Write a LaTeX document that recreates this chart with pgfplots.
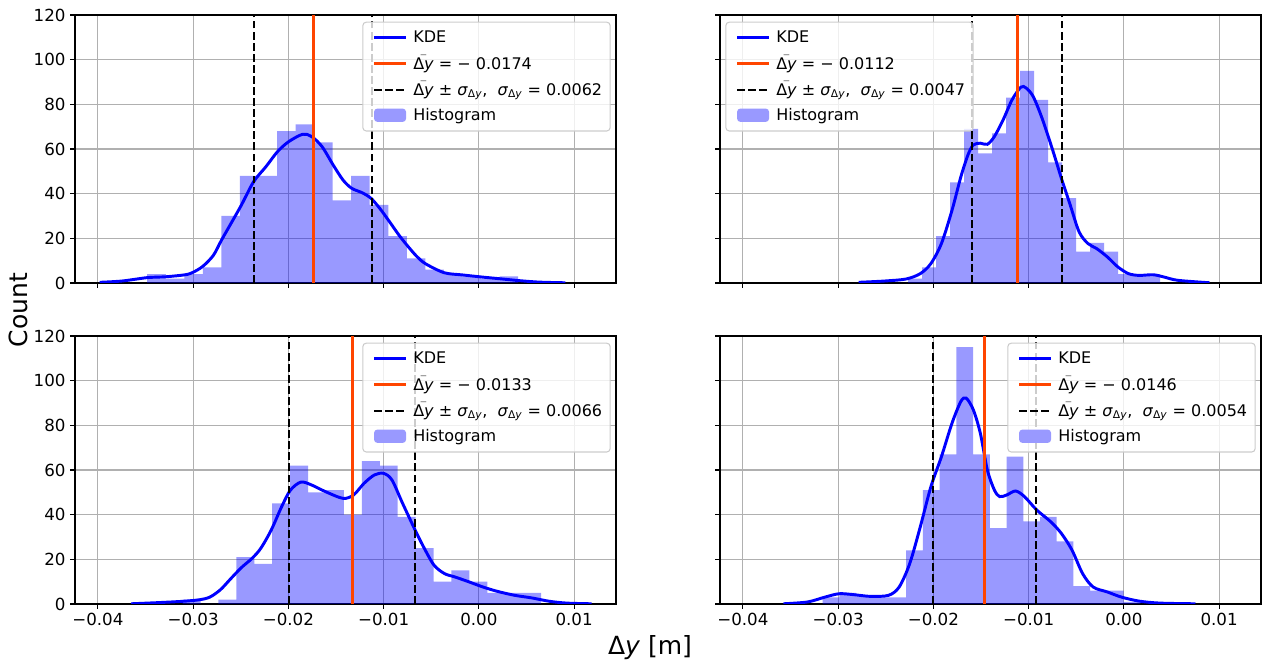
\documentclass[border=0pt]{standalone}
\usepackage{fontspec}
\setmainfont{DejaVu Sans}
\usepackage{amsmath}
\usepackage{pgfplots}
\pgfplotsset{compat=1.18}
\definecolor{kdeblue}{rgb}{0,0,1}
\definecolor{orangered}{HTML}{FF4500}
\definecolor{gridgray}{HTML}{B0B0B0}
\definecolor{histfill}{rgb}{0.6,0.6,1}

\pgfplotsset{
  kdeleg/.style={legend image code/.code={\path (0pt,0pt); \draw[draw=kdeblue, line width=2.2pt] (4pt,0pt) -- (28pt,0pt); \path (31pt,0pt);}},
  meanleg/.style={legend image code/.code={\path (0pt,0pt); \draw[draw=orangered, line width=2.2pt] (4pt,0pt) -- (28pt,0pt); \path (31pt,0pt);}},
  sdleg/.style={legend image code/.code={\path (0pt,0pt); \draw[draw=black, line width=1.5pt, dash pattern=on 5.8pt off 2.5pt] (4pt,0pt) -- (28pt,0pt); \path (31pt,0pt);}},
  boxleg/.style={legend image code/.code={\path (0pt,0pt); \fill[histfill, draw=none, fill opacity=1] (4pt,-5pt) rectangle (28pt,5pt); \path (31pt,0pt);}},
  panel/.style={
    scale only axis, width=405.75pt, height=201pt,
    xmin=-0.0424, xmax=0.0144, ymin=0, ymax=120,
    xtick={-0.04,-0.03,-0.02,-0.01,0,0.01},
    ytick={0,20,40,60,80,100,120},
    scaled x ticks=false, scaled y ticks=false,
    grid=major,
    major grid style={color=gridgray, line width=0.8pt},
    axis line style={line width=0.8pt, black},
    tick align=outside, tick pos=left,
    major tick length=3.6pt,
    major tick style={line width=0.8pt, black},
    tick label style={font=\fontsize{12.5}{15}\selectfont},
    legend style={font=\fontsize{12}{14.4}\selectfont, draw=black!20, rounded corners=2.5pt,
      fill=white, fill opacity=0.8, text opacity=1, draw opacity=1, row sep=4pt,
      inner xsep=4pt, inner ysep=4.5pt, line width=0.8pt},
    legend cell align=left,
  },
  xlab/.style={xticklabels={−0.04,−0.03,−0.02,−0.01,0.00,0.01}},
  xnolab/.style={xticklabels={}},
  ylab/.style={yticklabels={0,20,40,60,80,100,120}},
  ynolab/.style={yticklabels={}},
  legTR/.style={legend style={at={(1,1)}, anchor=north east, xshift=-4pt, yshift=-5pt}},
  legTL/.style={legend style={at={(0,1)}, anchor=north west, xshift=4pt, yshift=-5pt}},
  hist/.style={ybar interval, fill=blue, fill opacity=0.4, draw=none, forget plot},
  kdeline/.style={kdeblue, line width=2.2pt, smooth, forget plot},
  meanline/.style={orangered, line width=2.2pt, forget plot},
  sdline/.style={black, line width=1.5pt, dash pattern=on 5.8pt off 2.5pt, forget plot},
}

\newcommand{\dy}{\text{Δ\textit{y}}}
\newcommand{\legs}[2]{%
  \addlegendimage{kdeleg}
  \addlegendentry{KDE}
  \addlegendimage{meanleg}
  \addlegendentry{$\bar{\dy}$ = − #1}
  \addlegendimage{sdleg}
  \addlegendentry{$\bar{\dy}$ ± \textit{σ}$_{\dy}$,\ \ \textit{σ}$_{\dy}$ = #2}
  \addlegendimage{boxleg}
  \addlegendentry{Histogram}
}

\begin{document}
\begin{tikzpicture}
\path[use as bounding box] (0pt,0pt) rectangle (948pt,-499.5pt);

% ---------------- top left
\begin{axis}[panel, xnolab, ylab, legTR, at={(56.25pt,-11.25pt)}, anchor=north west]
\legs{0.0174}{0.0062}
\addplot[hist] coordinates {
(-0.03482,4) (-0.03287,2) (-0.03092,4) (-0.02898,7) (-0.02703,30) (-0.02508,48)
(-0.02314,48) (-0.02119,68) (-0.01924,71) (-0.01730,63) (-0.01535,37) (-0.01340,48)
(-0.01146,35) (-0.00951,21) (-0.00756,11) (-0.00562,6) (-0.00367,4) (-0.00172,3)
(0.00022,2) (0.00217,3) (0.00412,0)};
\addplot[kdeline] coordinates {
(-0.03982,0.3) (-0.03743,0.9) (-0.03482,2.4) (-0.03283,2.8) (-0.03081,3.7) (-0.03,4.8)
(-0.02897,7.5) (-0.02787,12.4) (-0.02702,19.2) (-0.02603,26.6) (-0.02493,34.9)
(-0.02364,45.4) (-0.02235,52.1) (-0.02114,58.8) (-0.01996,63.3) (-0.01849,66.6)
(-0.01757,65.6) (-0.01647,61.1) (-0.01529,52.8) (-0.01426,46.1) (-0.01335,42.4)
(-0.01224,40.4) (-0.01132,37.9) (-0.0104,33.4) (-0.00949,28.1) (-0.00838,21.4)
(-0.00754,16.9) (-0.00654,12.0) (-0.00559,8.6) (-0.00364,4.6) (-0.00169,3.6)
(0.00026,2.7) (0.0022,1.9) (0.00412,1.1) (0.00632,0.4) (0.00908,0.1)};
\addplot[meanline] coordinates {(-0.0174,0) (-0.0174,120)};
\addplot[sdline] coordinates {(-0.0236,0) (-0.0236,120)};
\addplot[sdline] coordinates {(-0.0112,0) (-0.0112,120)};
\end{axis}

% ---------------- top right
\begin{axis}[panel, xnolab, ynolab, legTL, at={(540pt,-11.25pt)}, anchor=north west]
\legs{0.0112}{0.0047}
\addplot[hist] coordinates {
(-0.025595,0) (-0.024125,0) (-0.022655,2) (-0.021185,7) (-0.019715,21) (-0.018245,45)
(-0.016775,69) (-0.015305,58) (-0.013835,67) (-0.012365,83) (-0.010895,95) (-0.009425,82)
(-0.007955,54) (-0.006485,38) (-0.005015,14) (-0.003545,18) (-0.002075,14) (-0.000605,4)
(0.000865,4) (0.002335,4) (0.003805,0)};
\addplot[kdeline] coordinates {
(-0.02785,0.3) (-0.02507,0.9) (-0.02285,1.8) (-0.02137,4.2) (-0.02026,8.7) (-0.01915,17.7)
(-0.01804,32.6) (-0.01711,47.6) (-0.01637,57.3) (-0.01581,61.8) (-0.01507,62.6)
(-0.01433,62.1) (-0.01359,65.6) (-0.01267,73.1) (-0.01174,82.0) (-0.01081,87.7)
(-0.01026,87.3) (-0.00952,83.5) (-0.00859,73.8) (-0.00748,59.6) (-0.00656,46.9)
(-0.00563,34.9) (-0.0047,22.9) (-0.00378,17.7) (-0.00285,15.4) (-0.00174,11.7)
(-0.00063,7.2) (0.00048,4.2) (0.00159,3.4) (0.00307,3.7) (0.00419,2.7) (0.00567,1.2)
(0.009,0.1)};
\addplot[meanline] coordinates {(-0.0112,0) (-0.0112,120)};
\addplot[sdline] coordinates {(-0.0159,0) (-0.0159,120)};
\addplot[sdline] coordinates {(-0.0065,0) (-0.0065,120)};
\end{axis}

% ---------------- bottom left
\begin{axis}[panel, xlab, ylab, legTR, at={(56.25pt,-252pt)}, anchor=north west]
\legs{0.0133}{0.0066}
\addplot[hist] coordinates {
(-0.031103,2) (-0.029221,0) (-0.027339,2) (-0.025457,21) (-0.023575,18) (-0.021693,45)
(-0.019811,62) (-0.017929,50) (-0.016047,51) (-0.014165,40) (-0.012283,64) (-0.010401,62)
(-0.008519,39) (-0.006637,25) (-0.004755,10) (-0.002873,15) (-0.000991,10) (0.000891,5)
(0.002773,5) (0.004655,5) (0.006537,0)};
\addplot[kdeline] coordinates {
(-0.03651,0.1) (-0.03375,0.6) (-0.0311,1.2) (-0.02934,1.9) (-0.02824,3.1) (-0.02713,6.4)
(-0.02603,11.4) (-0.02493,16.3) (-0.02382,20.4) (-0.0229,24.9) (-0.0218,33.1)
(-0.0207,43.6) (-0.01978,51.0) (-0.01868,54.6) (-0.01757,53.3) (-0.0161,50.3)
(-0.01426,47.3) (-0.01316,48.8) (-0.01206,54.0) (-0.01096,57.8) (-0.01,58.5)
(-0.00912,55.5) (-0.00801,45.1) (-0.00669,33.1) (-0.00581,25.6) (-0.00471,17.4)
(-0.0036,13.6) (-0.0025,12.1) (-0.00103,9.9) (0.00044,7.6) (0.00191,5.7) (0.00375,3.9)
(0.00559,2.7) (0.00743,1.2) (0.00926,0.4) (0.01184,0.1)};
\addplot[meanline] coordinates {(-0.0133,0) (-0.0133,120)};
\addplot[sdline] coordinates {(-0.0199,0) (-0.0199,120)};
\addplot[sdline] coordinates {(-0.0067,0) (-0.0067,120)};
\end{axis}

% ---------------- bottom right
\begin{axis}[panel, xlab, ynolab, legTR, at={(540pt,-252pt)}, anchor=north west]
\legs{0.0146}{0.0054}
\addplot[hist] coordinates {
(-0.031632,3) (-0.029876,5) (-0.02812,4) (-0.026364,3) (-0.024608,3) (-0.022852,24)
(-0.021096,51) (-0.01934,67) (-0.017584,115) (-0.015828,67) (-0.014072,34) (-0.012316,66)
(-0.01056,37) (-0.008804,39) (-0.007048,28) (-0.005292,8) (-0.003536,6) (-0.00178,6)
(-0.000024,1) (0.001732,0) (0.003488,0)};
\addplot[kdeline] coordinates {
(-0.03574,0.1) (-0.03322,0.9) (-0.03137,3.1) (-0.02989,4.6) (-0.02841,4.2) (-0.02656,3.4)
(-0.0247,3.9) (-0.02359,7.6) (-0.02248,18.1) (-0.02137,34.6) (-0.02026,52.5)
(-0.01915,66.0) (-0.01804,81.0) (-0.01711,90.7) (-0.01656,92.2) (-0.01581,87.0)
(-0.01507,76.5) (-0.01433,60.0) (-0.01359,51.0) (-0.01304,48.1) (-0.0123,48.8)
(-0.01137,50.6) (-0.01044,48.1) (-0.00915,42.1) (-0.00767,36.8) (-0.00656,31.6)
(-0.00544,24.1) (-0.00433,13.6) (-0.00322,7.6) (-0.00174,5.4) (-0.00026,3.1)
(0.00159,1.3) (0.00381,0.4) (0.00752,0.1)};
\addplot[meanline] coordinates {(-0.0146,0) (-0.0146,120)};
\addplot[sdline] coordinates {(-0.0200,0) (-0.0200,120)};
\addplot[sdline] coordinates {(-0.0092,0) (-0.0092,120)};
\end{axis}

\node[rotate=90, font=\fontsize{18.75}{22}\selectfont] at (13.5pt,-232.5pt) {Count};
\node[font=\fontsize{18.75}{22}\selectfont] at (487.5pt,-486pt) {Δ\textit{y} [m]};
\end{tikzpicture}
\end{document}
